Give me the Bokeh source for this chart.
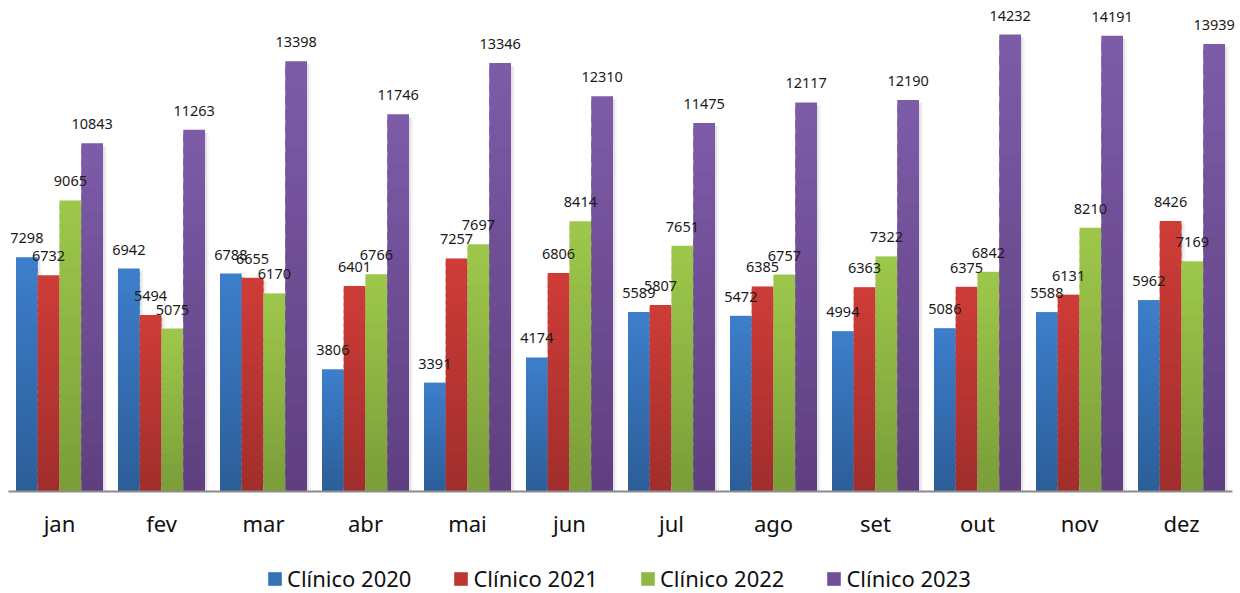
from bokeh.plotting import figure
from bokeh.models import (FactorRange, Range1d, ColumnDataSource, LabelSet, Legend, LegendItem)
from bokeh.transform import dodge
from bokeh.core.properties import value
from bokeh.embed import file_html
from bokeh.resources import INLINE

months = ["jan", "fev", "mar", "abr", "mai", "jun", "jul", "ago", "set", "out", "nov", "dez"]
c2020 = [7298, 6942, 6788, 3806, 3391, 4174, 5589, 5472, 4994, 5086, 5588, 5962]
c2021 = [6732, 5494, 6655, 6401, 7257, 6806, 5807, 6385, 6363, 6375, 6131, 8426]
c2022 = [9065, 5075, 6170, 6766, 7697, 8414, 7651, 6757, 7322, 6842, 8210, 7169]
c2023 = [10843, 11263, 13398, 11746, 13346, 12310, 11475, 12117, 12190, 14232, 14191, 13939]
series_names = ["Clínico 2020", "Clínico 2021", "Clínico 2022", "Clínico 2023"]
series_values = [c2020, c2021, c2022, c2023]

# (top colour, bottom colour)
colors = [
    ("#3d7fcc", "#2c5d98"),
    ("#cf3c38", "#a02e2c"),
    ("#9ec84b", "#7a9d39"),
    ("#7d5ba8", "#5f3f80"),
]
offsets = [-0.32, -0.107, 0.107, 0.32]
bar_w = 0.213
FONT = "Noto Sans"

p = figure(x_range=FactorRange(*months, range_padding=0.0784, range_padding_units="absolute"),
           y_range=Range1d(-3177, 15291),
           width=1240, height=593, output_backend="svg", toolbar_location=None,
           min_border_left=0, min_border_right=0, min_border_top=0, min_border_bottom=0)
p.outline_line_color = None
p.xgrid.grid_line_color = None
p.ygrid.grid_line_color = None
p.yaxis.visible = False
p.background_fill_color = "white"
p.border_fill_color = "white"


def hex2rgb(h):
    h = h.lstrip("#")
    return tuple(int(h[i:i + 2], 16) for i in (0, 2, 4))


def mix(c1, c2, t):
    a, b = hex2rgb(c1), hex2rgb(c2)
    return "#%02x%02x%02x" % tuple(int(round(a[i] + (b[i] - a[i]) * t)) for i in range(3))


# soft shadows to the right of every bar (drawn first, underneath)
for si, vals in enumerate(series_values):
    ssrc = ColumnDataSource(dict(m=months, top=[v - 90 for v in vals]))
    p.vbar(x=dodge("m", offsets[si] + 0.02, range=p.x_range), top="top", bottom=0, width=bar_w,
           source=ssrc, fill_color="black", fill_alpha=0.07, line_color=None)
    p.vbar(x=dodge("m", offsets[si] + 0.038, range=p.x_range), top="top", bottom=0, width=bar_w,
           source=ssrc, fill_color="black", fill_alpha=0.04, line_color=None)

N = 30
legend_items = []
for si, (name, vals) in enumerate(zip(series_names, series_values)):
    top_c, bot_c = colors[si]
    m, b, t, col = [], [], [], []
    for mi, v in enumerate(vals):
        for k in range(N):
            m.append(months[mi])
            b.append(v * k / N)
            t.append(v * min(k + 1.6, N) / N)
            col.append(mix(bot_c, top_c, (k + 0.5) / N))
    src = ColumnDataSource(dict(m=m, bottom=b, top=t, color=col))
    p.vbar(x=dodge("m", offsets[si], range=p.x_range), bottom="bottom", top="top", width=bar_w,
           source=src, fill_color="color", line_color=None)
    # zero-height bar that only provides the legend swatch colour
    swatch = p.vbar(x=[months[0]], bottom=[0], top=[0], width=0.001,
                    fill_color=mix(bot_c, top_c, 0.6), line_color=None)
    legend_items.append(LegendItem(label=name, renderers=[swatch]))

    lsrc = ColumnDataSource(dict(m=months, v=vals, txt=[str(x) for x in vals]))
    labels = LabelSet(x=dodge("m", offsets[si], range=p.x_range), y="v", text="txt", source=lsrc,
                      y_offset=14, text_align="center", text_baseline="alphabetic",
                      text_font=value(FONT), text_font_size="14.5px", text_color="#1a1a1a")
    p.add_layout(labels)

ax = p.xaxis[0]
ax.fixed_location = 0
ax.bounds = (0, 12)
ax.axis_line_color = "#8c8c8c"
ax.axis_line_width = 2
ax.major_tick_line_color = None
ax.minor_tick_line_color = None
ax.major_tick_out = 0
ax.major_tick_in = 0
ax.major_label_standoff = 17
ax.major_label_text_font = FONT
ax.major_label_text_font_size = "22px"
ax.major_label_text_color = "#111111"

legend = Legend(items=legend_items, orientation="horizontal", location=(266, 0),
                glyph_width=17, glyph_height=17, label_standoff=4, spacing=41,
                padding=0, margin=0, border_line_color=None, background_fill_alpha=0,
                label_text_font=FONT, label_text_font_size="22px", label_text_color="#111111")
p.add_layout(legend, "center")

open("out.html", "w").write(file_html(p, INLINE))
